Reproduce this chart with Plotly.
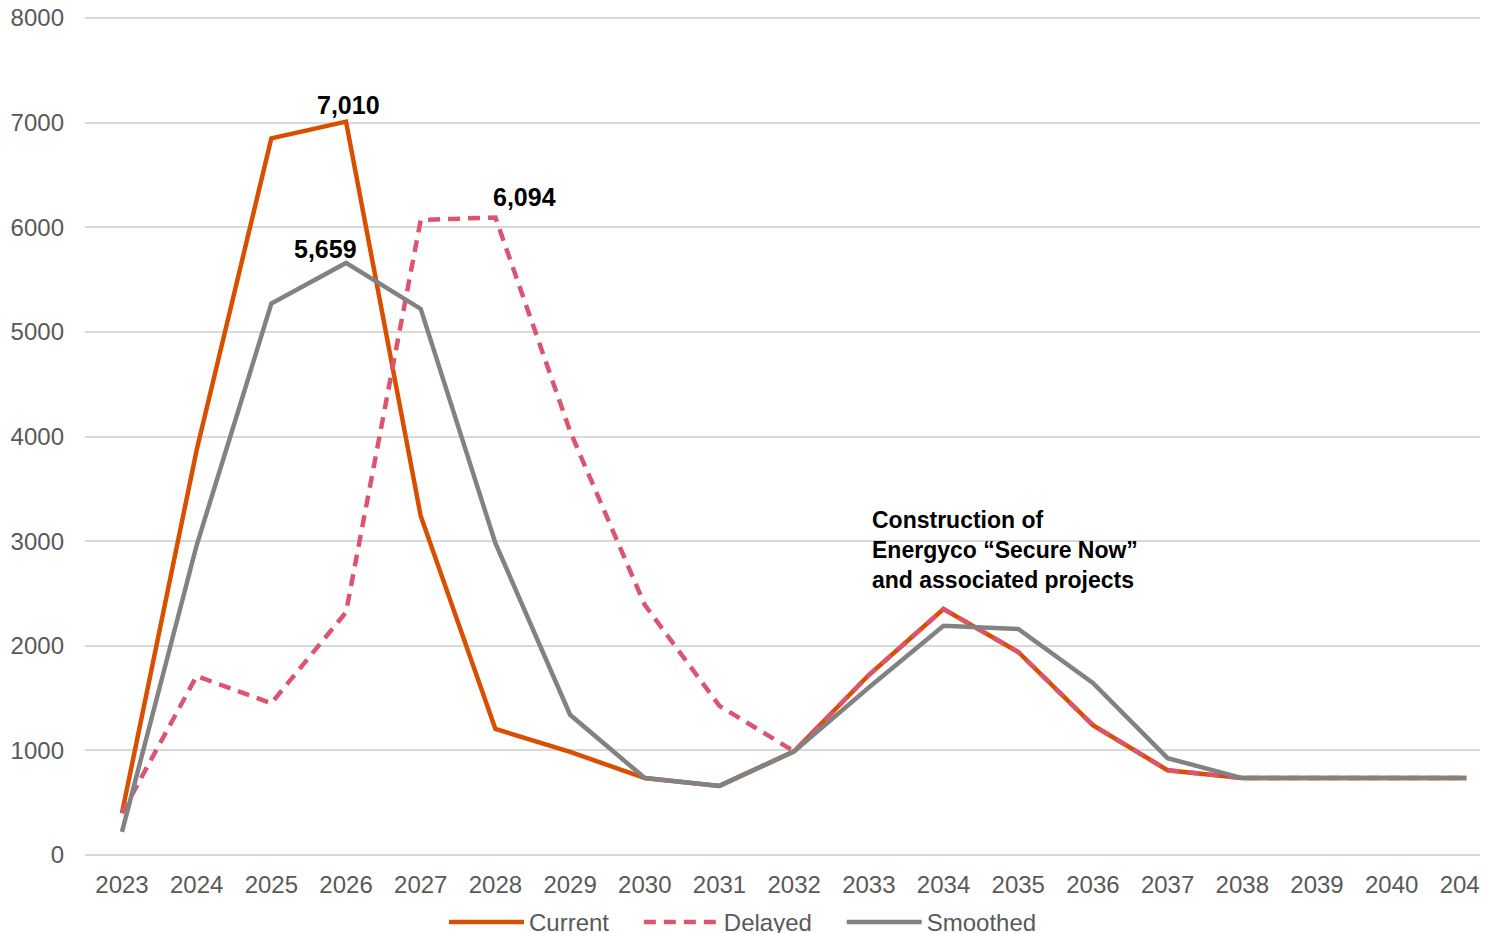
import plotly.graph_objects as go

years = list(range(2023, 2042))
current = [400, 3870, 6850, 7010, 3240, 1205, 985, 735, 660, 990, 1720, 2350, 1940, 1240, 810, 735, 735, 735, 735]
delayed = [400, 1710, 1450, 2320, 6070, 6094, 4050, 2390, 1425, 990, 1720, 2350, 1940, 1240, 810, 735, 735, 735, 735]
smoothed = [220, 2960, 5270, 5659, 5220, 2980, 1340, 735, 660, 990, 1600, 2190, 2160, 1645, 925, 735, 735, 735, 735]
y_ticks = [0, 1000, 2000, 3000, 4000, 5000, 6000, 7000, 8000]

FONT = "Liberation Sans, Arial, sans-serif"
PAD = "\u00a0" * 3 + "\u2009"

fig = go.Figure()
fig.add_trace(go.Scatter(x=years, y=current, name="Current" + PAD, mode="lines",
                         line=dict(color="#D94F00", width=4.5)))
fig.add_trace(go.Scatter(x=years, y=delayed, name="Delayed" + PAD, mode="lines",
                         line=dict(color="#DC546E", width=4.5, dash="12px,8px")))
fig.add_trace(go.Scatter(x=years, y=smoothed, name="Smoothed", mode="lines",
                         line=dict(color="#828282", width=4.5)))

lab_font = dict(family=FONT, size=25, color="#000000")
fig.add_annotation(x=2026, y=7010, text="<b>7,010</b>", showarrow=False,
                   yshift=17, xshift=2, font=lab_font)
fig.add_annotation(x=2028, y=6094, text="<b>6,094</b>", showarrow=False,
                   yshift=20, xshift=29, font=lab_font)
fig.add_annotation(x=2026, y=5659, text="<b>5,659</b>", showarrow=False,
                   yshift=14, xshift=-21, font=lab_font)
fig.add_annotation(x=2033.01, y=2916, xanchor="left", yanchor="middle", align="left",
                   text="<b>Construction of<br>Energyco “Secure Now”<br>and associated projects</b>",
                   showarrow=False, font=dict(family=FONT, size=23, color="#000000"))

fig.update_layout(
    width=1480, height=925,
    margin=dict(l=77, r=0, t=9, b=77, autoexpand=False),
    paper_bgcolor="white", plot_bgcolor="white",
    font=dict(family=FONT, size=23, color="#595959"),
    showlegend=True,
    legend=dict(orientation="h", x=0.469, xanchor="center", y=-0.079, yanchor="middle",
                font=dict(family=FONT, size=24, color="#595959"),
                itemwidth=75, bgcolor="rgba(0,0,0,0)"),
    xaxis=dict(range=[2022.505, 2041.29], tickmode="array", tickvals=years,
               ticktext=[str(y) for y in years], showgrid=False, zeroline=False,
               showline=False, ticks="", ticklabelstandoff=12, ticklabeloverflow="allow",
               tickfont=dict(family=FONT, size=24, color="#595959")),
    yaxis=dict(range=[-10, 8010], tickmode="array", tickvals=y_ticks,
               ticktext=[str(v) for v in y_ticks], showgrid=True, gridcolor="#D9D9D9",
               gridwidth=1.5, zeroline=False, showline=False, ticks="",
               ticklabelstandoff=20, ticklabeloverflow="allow",
               tickfont=dict(family=FONT, size=24, color="#595959")),
)

fig.write_html("out.html")
